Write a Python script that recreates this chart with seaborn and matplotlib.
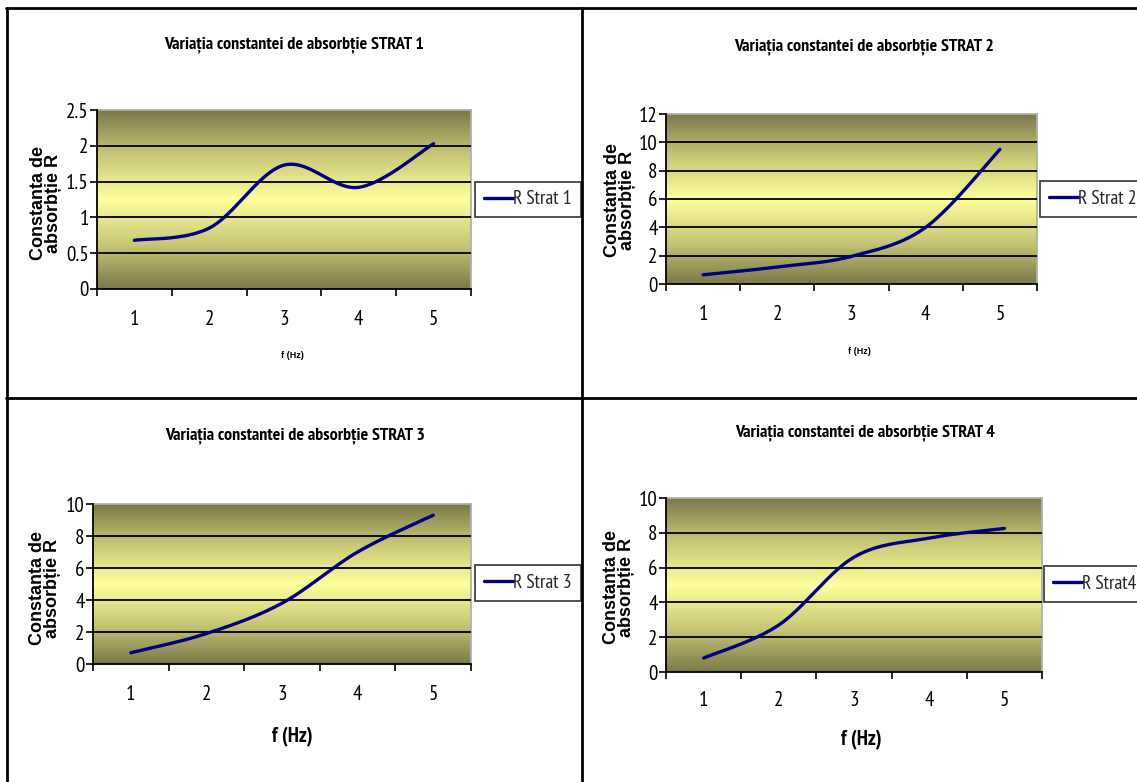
import numpy as np
import pandas as pd
import matplotlib
matplotlib.use("Agg")
import matplotlib.pyplot as plt
import seaborn as sns
from matplotlib.colors import LinearSegmentedColormap
from matplotlib.lines import Line2D
from matplotlib import font_manager

# ---------------- data ----------------
freq = [1, 2, 3, 4, 5]
r_strat1 = [0.68, 0.85, 1.73, 1.42, 2.03]
r_strat2 = [0.65, 1.2, 1.95, 4.0, 9.5]
r_strat3 = [0.7, 1.9, 3.8, 7.0, 9.3]
r_strat4 = [0.8, 2.7, 6.6, 7.7, 8.25]
series_names = ["R Strat 1", "R Strat 2", "R Strat 3", "R Strat4"]
titles = ["Variația constantei de absorbție STRAT 1",
          "Variația constantei de absorbție STRAT 2",
          "Variația constantei de absorbție STRAT 3",
          "Variația constantei de absorbție STRAT 4"]
ylims = [2.5, 12, 10, 10]
ysteps = [0.5, 2, 2, 2]
ylabel = "Constanta de\nabsorbție R"
xlabel = "f (Hz)"

# ---------------- style ----------------
sns.set_theme(style="white")
avail = {f.name for f in font_manager.fontManager.ttflist}
narrow = "Liberation Sans"
for cand in ["Liberation Sans Narrow", "PT Sans Narrow", "Roboto Condensed",
             "Archivo Narrow", "Barlow Semi Condensed", "Asap Condensed"]:
    if cand in avail:
        narrow = cand
        break
plt.rcParams['font.family'] = [narrow, 'DejaVu Sans']

W, H = 1137, 782
fig = plt.figure(figsize=(W / 100, H / 100), dpi=100)
fig.patch.set_facecolor("white")

# pixel boxes: left, right, top, bottom of plot areas
boxes = [(97, 471, 110, 289), (666, 1037, 114, 284),
         (93, 471, 504, 664), (666, 1042, 498, 672)]
legend_boxes = [(484, 572, 181, 218), (1050, 1136, 180, 218),
                (484, 572, 564, 602), (1054, 1136, 566, 602)]
title_pos = [(294, 45), (864, 47), (295, 436), (865, 433)]
ylabel_pos = [(46, 203), (620, 200), (45, 588), (619, 587)]
xlabel_pos = [(292, 355), (859, 352), (292, 737), (861, 740)]
xtick_y = [320, 315, 695, 701]

cmap = LinearSegmentedColormap.from_list(
    "olive", ["#7b7849", "#c9c777", "#ffff9c", "#c9c777", "#7b7849"])
grad = np.linspace(0, 1, 256).reshape(-1, 1)


def smooth(xs, ys, n=40):
    """Excel-like smoothed line (Catmull-Rom Bezier) through data points."""
    P = np.column_stack([xs, ys]).astype(float)
    out = []
    for i in range(len(P) - 1):
        p0 = P[i - 1] if i > 0 else P[i]
        p1, p2 = P[i], P[i + 1]
        p3 = P[i + 2] if i + 2 < len(P) else P[i + 1]
        c1 = p1 + (p2 - p0) / 6
        c2 = p2 - (p3 - p1) / 6
        t = np.linspace(0, 1, n)[:, None]
        seg = ((1 - t) ** 3) * p1 + 3 * ((1 - t) ** 2) * t * c1 + \
            3 * (1 - t) * t ** 2 * c2 + t ** 3 * p2
        out.append(seg if i == 0 else seg[1:])
    return np.vstack(out)


all_series = [r_strat1, r_strat2, r_strat3, r_strat4]

for k in range(4):
    l, r, t, b = boxes[k]
    ax = fig.add_axes([l / W, 1 - b / H, (r - l) / W, (b - t) / H])
    ax.imshow(grad, extent=[0, 1, 0, 1], transform=ax.transAxes,
              cmap=cmap, aspect="auto", zorder=0, interpolation="bicubic")
    curve = smooth(freq, all_series[k])
    df = pd.DataFrame({"f": curve[:, 0], "R": curve[:, 1],
                       "serie": series_names[k]})
    sns.lineplot(data=df, x="f", y="R", hue="serie", palette=["#000080"],
                 sort=False, estimator=None, linewidth=2.4, ax=ax, zorder=3)

    ax.set_xlim(0.5, 5.5)
    ax.set_ylim(0, ylims[k])
    yt = np.arange(0, ylims[k] + ysteps[k] / 2, ysteps[k])
    ax.set_yticks(yt)
    ax.set_yticklabels([f"{v:g}" for v in yt])
    ax.set_xticks(freq)
    ax.set_xticks(np.arange(0.5, 5.6, 1.0), minor=True)
    ax.tick_params(axis="x", which="major", length=0,
                   pad=(xtick_y[k] - b) * 0.72 - 7, labelsize=15)
    ax.tick_params(axis="x", which="minor", length=5, width=1.2,
                   direction="out", color="black", bottom=True)
    ax.tick_params(axis="y", which="major", length=5, width=1.2,
                   direction="out", color="black", left=True, pad=1,
                   labelsize=15)
    for lab in ax.get_xticklabels() + ax.get_yticklabels():
        lab.set_color("black")

    ax.yaxis.grid(True, color="black", linewidth=1.3, zorder=2)
    ax.set_axisbelow(False)
    glines = ax.get_ygridlines()
    glines[0].set_visible(False)
    glines[-1].set_visible(False)

    for side in ["left", "bottom"]:
        ax.spines[side].set_color("black")
        ax.spines[side].set_linewidth(1.3)
        ax.spines[side].set_zorder(4)
    for side in ["top", "right"]:
        ax.spines[side].set_color("#b0b0b0")
        ax.spines[side].set_linewidth(1.3)

    def ax_coords(px, py):
        return (px - l) / (r - l), (b - py) / (b - t)

    tx, ty = ax_coords(*title_pos[k])
    ax.set_title(titles[k], x=tx, y=ty, va="center", ha="center", pad=0,
                 fontsize=13, fontweight="bold", color="black",
                 family=[narrow, "DejaVu Sans"])

    ax.set_ylabel(ylabel, fontsize=13, fontweight="bold",
                  family=["Liberation Sans", "DejaVu Sans"],
                  linespacing=0.8, color="black", va="center", ha="center")
    ax.yaxis.set_label_coords(*ax_coords(*ylabel_pos[k]))

    if k < 2:
        ax.set_xlabel(xlabel, fontsize=6.5, fontweight="bold",
                      family=["Liberation Sans", "DejaVu Sans"], color="black",
                      va="center", ha="center")
    else:
        ax.set_xlabel(xlabel, fontsize=15, fontweight="bold",
                      family=[narrow, "DejaVu Sans"], color="black",
                      va="center", ha="center")
    ax.xaxis.set_label_coords(*ax_coords(*xlabel_pos[k]))

    ll, lr, lt, lb = legend_boxes[k]
    leg = ax.legend(loc="center", bbox_to_anchor=((ll + lr) / 2 / W, 1 - (lt + lb) / 2 / H),
                    bbox_transform=fig.transFigure, frameon=True, fancybox=False,
                    edgecolor="black", fontsize=14, handlelength=1.5,
                    handletextpad=0.0, borderpad=0.45, borderaxespad=0)
    leg.get_frame().set_linewidth(1.2)
    for line in leg.get_lines():
        line.set_linewidth(2.4)

# panel border lines
lw = 2.0
fig.add_artist(Line2D([6 / W, 1], [1 - 8 / H, 1 - 8 / H], color="black", lw=lw,
                      transform=fig.transFigure))
fig.add_artist(Line2D([7 / W, 7 / W], [0, 1 - 8 / H], color="black", lw=lw,
                      transform=fig.transFigure))
fig.add_artist(Line2D([582 / W, 582 / W], [0, 1 - 8 / H], color="black", lw=lw,
                      transform=fig.transFigure))
fig.add_artist(Line2D([6 / W, 1], [1 - 398 / H, 1 - 398 / H], color="black", lw=lw,
                      transform=fig.transFigure))

fig.savefig("out.png", dpi=100, facecolor="white")
